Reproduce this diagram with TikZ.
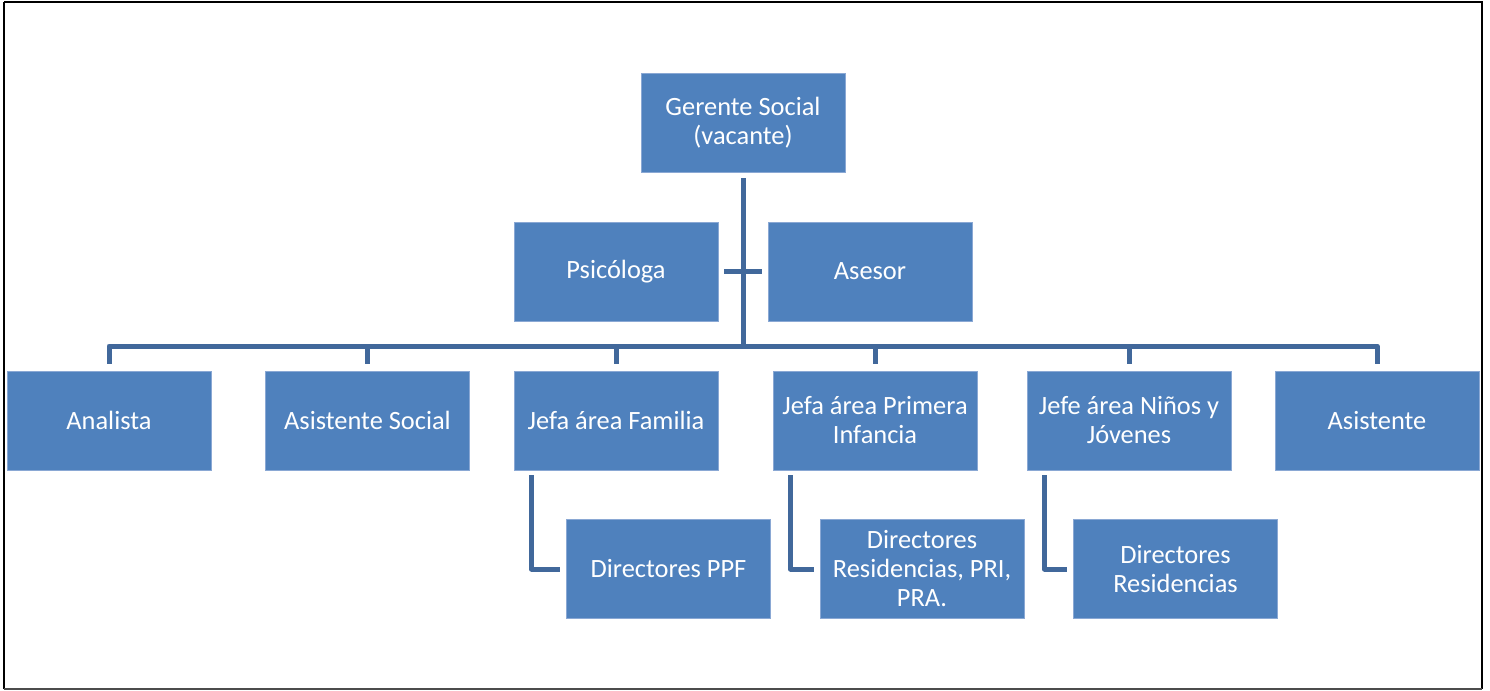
\documentclass[tikz,border=0pt]{standalone}
\usepackage{fontspec}
\setmainfont{Carlito}
\definecolor{boxfill}{HTML}{4F81BD}
\definecolor{boxedge}{HTML}{8AA8D4}
\definecolor{connblue}{HTML}{41689B}
\tikzset{
  orgbox/.style={rectangle, fill=boxfill, draw=boxedge, line width=0.6pt,
    minimum width=153pt, minimum height=74.25pt, inner sep=2pt,
    text=white, align=center,
    font=\fontsize{19.8pt}{21.75pt}\selectfont},
  conn/.style={draw=connblue, line width=3.75pt, line join=round}
}
\begin{document}
\begin{tikzpicture}[x=0.75pt,y=-0.75pt]
\useasboundingbox (0,0) rectangle (1490,690);
\fill[white] (0,0) rectangle (1490,690);
\draw[black, line width=1.9pt] (4,2) -- (1482,2) -- (1482,689);
\draw[black, line width=1.9pt] (4,2) -- (4,689);
\draw[black!70, line width=1.2pt] (4,689) -- (1482,689);

% nodes
\node[orgbox] (g)    at (743,122.5) {Gerente Social\\(vacante)};
\node[orgbox] (ps)   at (616,271.5) {Psicóloga};
\node[orgbox] (ase)  at (870,271.5) {Asesor};
\node[orgbox] (an)   at (109,420.5) {Analista};
\node[orgbox] (asoc) at (367.5,420.5) {Asistente Social};
\node[orgbox] (jf)   at (616,420.5) {Jefa área Familia};
\node[orgbox] (jpi)  at (875,420.5) {Jefa área Primera\\Infancia};
\node[orgbox] (jnj)  at (1129,420.5) {Jefe área Niños y\\Jóvenes};
\node[orgbox] (ast)  at (1377,420.5) {Asistente};
\node[orgbox] (dppf) at (668.5,569) {Directores PPF};
\node[orgbox] (dpri) at (922,569) {Directores\\Residencias, PRI,\\PRA.};
\node[orgbox] (dres) at (1175.5,569) {Directores\\Residencias};

\coordinate (bar) at (743,346);

% connectors
\draw[conn] ([yshift=-4.5pt]g.south) -- (g.south |- bar);
\draw[conn] ([xshift=4.5pt]ps.east) -- ([xshift=-4.5pt]ase.west);
\draw[conn] ([yshift=5.25pt]an.north) -- (an.north |- bar) -- (ast.north |- bar) -- ([yshift=5.25pt]ast.north);
\draw[conn] (asoc.north |- bar) -- ([yshift=5.25pt]asoc.north);
\draw[conn] (jf.north |- bar) -- ([yshift=5.25pt]jf.north);
\draw[conn] (jpi.north |- bar) -- ([yshift=5.25pt]jpi.north);
\draw[conn] (jnj.north |- bar) -- ([yshift=5.25pt]jnj.north);

\draw[conn] ([xshift=13.5pt,yshift=-3.75pt]jf.south west) |- ([xshift=-4.5pt]dppf.west);
\draw[conn] ([xshift=13.5pt,yshift=-3.75pt]jpi.south west) |- ([xshift=-4.5pt]dpri.west);
\draw[conn] ([xshift=13.5pt,yshift=-3.75pt]jnj.south west) |- ([xshift=-4.5pt]dres.west);
\end{tikzpicture}
\end{document}
